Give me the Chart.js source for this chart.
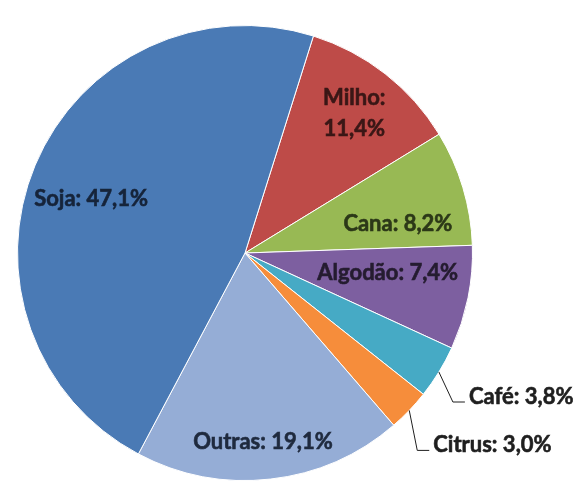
<!DOCTYPE html>
<html>
<head>
<meta charset="utf-8">
<script src="https://cdn.jsdelivr.net/npm/chart.js@4"></script>
<style>
  html, body { margin: 0; padding: 0; background: #ffffff; }
  #wrap { width: 575px; height: 481px; position: relative; }
</style>
</head>
<body>
<div id="wrap"><canvas id="pieChart"></canvas></div>
<script>
// Dados do gráfico (ordem horária a partir de Milho)
const categorias = ['Milho', 'Cana', 'Algodão', 'Café', 'Citrus', 'Outras', 'Soja'];
const valores = [11.4, 8.2, 7.4, 3.8, 3.0, 19.1, 47.1];
const rotulos = ['Milho:\n11,4%', 'Cana: 8,2%', 'Algodão: 7,4%', 'Café: 3,8%', 'Citrus: 3,0%', 'Outras: 19,1%', 'Soja: 47,1%'];

const cores = ['#BE4B48', '#98B954', '#7D5FA0', '#46AAC5', '#F68D3B', '#95ADD6', '#4A7AB5'];
const coresTexto = ['#3a1716', '#2c3818', '#251c30', '#1f1f1f', '#1f1f1f', '#1f2a3e', '#16243a'];

// posição dos rótulos: fração do raio + ajuste em px; externos usam linha guia
const rotuloRaio = [0.78, 0.72, 0.64, 1.0, 1.0, 0.82, 0.70];
const rotuloAjuste = [[0, 0], [-4, 18], [0, -9], [0, 0], [0, 0], [-3, 4], [-7, 7]];
const guiaCotovelo = [null, null, null, [14, 30], [8, 40], null, null];

const rotulosPlugin = {
    id: 'rotulos',
    afterDatasetsDraw(chart) {
        const ctx = chart.ctx;
        const arcs = chart.getDatasetMeta(0).data;
        ctx.save();
        ctx.font = 'bold 22px Lato';
        ctx.lineWidth = 1;
        arcs.forEach((arc, i) => {
            const p = arc.getProps(['x', 'y', 'startAngle', 'endAngle', 'outerRadius']);
            const meio = (p.startAngle + p.endAngle) / 2;
            const r = p.outerRadius * rotuloRaio[i];
            let x = p.x + Math.cos(meio) * r;
            let y = p.y + Math.sin(meio) * r;
            ctx.fillStyle = coresTexto[i];
            ctx.strokeStyle = coresTexto[i];
            if (guiaCotovelo[i]) {
                const cx = x + guiaCotovelo[i][0];
                const cy = y + guiaCotovelo[i][1];
                ctx.beginPath();
                ctx.moveTo(x, y);
                ctx.lineTo(cx, cy);
                ctx.lineTo(cx + 12, cy);
                ctx.stroke();
                ctx.textAlign = 'left';
                ctx.textBaseline = 'middle';
                ctx.lineWidth = 0.6;
                ctx.fillText(rotulos[i], cx + 16, cy - 5);
                ctx.strokeText(rotulos[i], cx + 16, cy - 5);
                ctx.lineWidth = 1;
                return;
            }
            x += rotuloAjuste[i][0];
            y += rotuloAjuste[i][1];
            ctx.textAlign = 'center';
            ctx.textBaseline = 'middle';
            ctx.lineWidth = 0.6;
            const linhas = rotulos[i].split('\n');
            const h = 31;
            linhas.forEach((t, k) => {
                const ty = y + (k - (linhas.length - 1) / 2) * h;
                ctx.fillText(t, x, ty);
                ctx.strokeText(t, x, ty);
            });
            ctx.lineWidth = 1;
        });
        ctx.restore();
    }
};

const pieConfig = {
    type: 'pie',
    data: {
        labels: categorias,
        datasets: [{
            data: valores,
            backgroundColor: cores,
            borderColor: '#ffffff',
            borderWidth: 1
        }]
    },
    options: {
        responsive: true,
        maintainAspectRatio: false,
        animation: false,
        rotation: 17.5,
        layout: {
            padding: { left: 17, top: 25, right: 102, bottom: 0 }
        },
        plugins: {
            legend: { display: false },
            tooltip: { enabled: false }
        }
    },
    plugins: [rotulosPlugin]
};

const pieCtx = document.getElementById('pieChart').getContext('2d');
new Chart(pieCtx, pieConfig);
</script>
</body>
</html>
